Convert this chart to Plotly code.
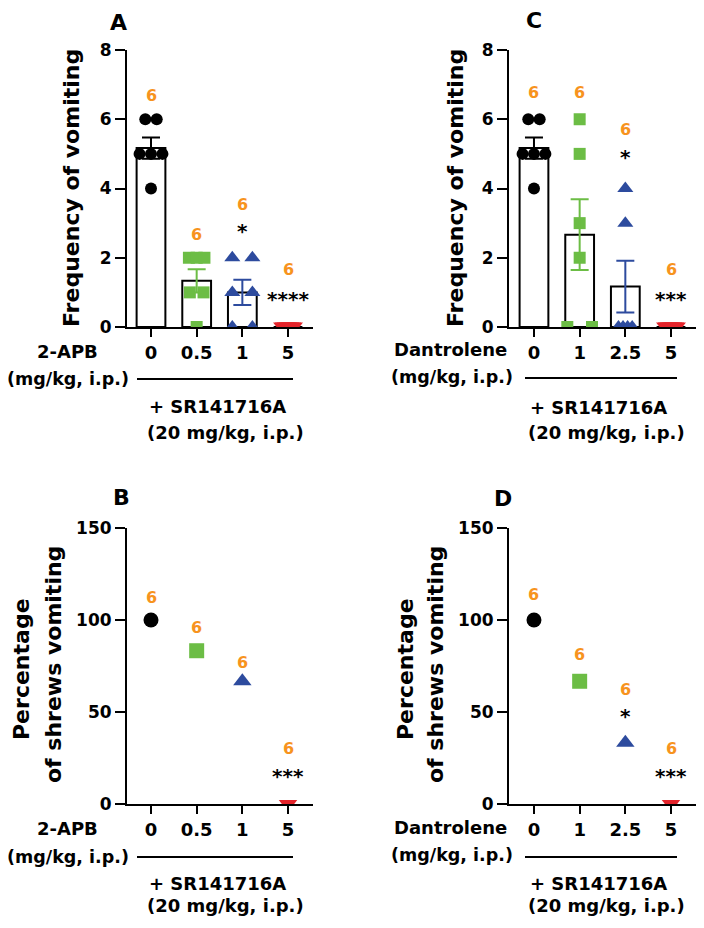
import numpy as np
import plotly.graph_objects as go

# dose labels
doses_apb = ["0", "0.5", "1", "5"]
doses_dan = ["0", "1", "2.5", "5"]

# individual shrews: frequency of vomiting
freq_apb = [[6, 6, 5, 5, 5, 4], [2, 2, 2, 1, 1, 0], [2, 2, 1, 1, 0, 0], [0, 0, 0, 0, 0, 0]]
freq_dan = [[6, 6, 5, 5, 5, 4], [6, 5, 3, 2, 0, 0], [4, 3, 0, 0, 0, 0], [0, 0, 0, 0, 0, 0]]

# percentage of shrews vomiting
pct_apb = [100, 83.3, 66.7, 0]
pct_dan = [100, 66.7, 33.3, 0]

n_apb = [6, 6, 6, 6]
n_dan = [6, 6, 6, 6]
sig_freq_apb = ["", "", "*", "****"]
sig_freq_dan = ["", "", "*", "***"]
sig_pct_apb = ["", "", "", "***"]
sig_pct_dan = ["", "", "*", "***"]

COLORS = ["#000000", "#6CBD45", "#2D4B9E", "#E4242B"]
SYMBOLS = ["circle", "square", "triangle-up", "triangle-down"]
DOT_SIZES = [12, 12, 14, 18]
ORANGE = "#F7931E"
FONT = "DejaVu Sans"
# the page body has an 8px margin, so the figure starts 8px into the window
PAD = 8
W, H = 704 - PAD, 928 - PAD


def px(x):
    return (x - PAD) / W


def py(y):
    return 1 - (y - PAD) / H


def bold(size, color="black"):
    return dict(family=FONT, size=size, color=color, weight="bold")


def label(text, x, y, size=18, xanchor="center", **kw):
    return dict(text=text, x=px(x), y=py(y), xref="paper", yref="paper", xanchor=xanchor,
                yanchor="middle", showarrow=False, font=bold(size), **kw)


def spread(vals, step, cap):
    # horizontal offsets for tied values, like a scatter dot plot
    vals = np.asarray(vals)
    offs = np.zeros(len(vals))
    for v in np.unique(vals):
        idx = np.where(vals == v)[0]
        n = len(idx)
        if n > 1:
            s = min(step, cap / ((n - 1) / 2))
            offs[idx] = (np.arange(n) - (n - 1) / 2) * s
    return offs


fig = go.Figure()

# panel geometry (window pixels)
left = dict(x0=127, x1=313, r=[-0.5255, 3.547])
right = dict(x0=509, x1=699, r=[-0.547, 3.613])
top = dict(y0=50, y1=327)
bot = dict(y0=528, y1=804)

panels = [
    ("A", "x", "y", left, top),
    ("C", "x2", "y2", right, top),
    ("B", "x3", "y3", left, bot),
    ("D", "x4", "y4", right, bot),
]

# dot spacing (step, max half-width) per group, in category units
dot_spread = {"x": [(0.25, 0.25), (0.3, 0.17), (0.44, 0.22), (0.1, 0.1)],
              "x2": [(0.25, 0.25), (0.55, 0.27), (0.44, 0.15), (0.1, 0.1)]}

# bar panels
for xa, ya, data in [("x", "y", freq_apb), ("x2", "y2", freq_dan)]:
    means = [float(np.mean(g)) for g in data]
    sems = [float(np.std(g, ddof=1) / np.sqrt(len(g))) for g in data]
    fig.add_trace(go.Bar(x=[0, 1, 2, 3], y=means, width=0.63, xaxis=xa, yaxis=ya,
                         marker=dict(color="white", line=dict(color="black", width=2))))
    for i, g in enumerate(data):
        step, cap = dot_spread[xa][i]
        fig.add_trace(go.Scatter(x=i + spread(g, step, cap), y=g, mode="markers",
                                 xaxis=xa, yaxis=ya,
                                 marker=dict(symbol=SYMBOLS[i], color=COLORS[i],
                                             size=DOT_SIZES[i], line=dict(width=0))))
        if sems[i] > 0:
            fig.add_trace(go.Scatter(x=[i], y=[means[i]], mode="markers", xaxis=xa, yaxis=ya,
                                     marker=dict(size=1, color="rgba(0,0,0,0)"),
                                     error_y=dict(type="data", array=[sems[i]], color=COLORS[i],
                                                  thickness=2, width=9)))

# percentage panels
for xa, ya, data in [("x3", "y3", pct_apb), ("x4", "y4", pct_dan)]:
    for i, v in enumerate(data):
        fig.add_trace(go.Scatter(x=[i], y=[v], mode="markers", xaxis=xa, yaxis=ya,
                                 marker=dict(symbol=SYMBOLS[i], color=COLORS[i],
                                             size=16 if i >= 2 else 15, line=dict(width=0))))

ann = []
shapes = []
layout_axes = {}
for k, (letter, xa, ya, gx, gy) in enumerate(panels):
    xname = "xaxis" if xa == "x" else "xaxis" + xa[1:]
    yname = "yaxis" if ya == "y" else "yaxis" + ya[1:]
    is_bar = k < 2
    doses = doses_apb if letter in "AB" else doses_dan
    layout_axes[xname] = dict(
        domain=[px(gx["x0"]), px(gx["x1"])], range=gx["r"], anchor=ya,
        tickvals=[0, 1, 2, 3], ticktext=doses, showline=True, linewidth=2,
        linecolor="black", ticks="outside", ticklen=8, tickwidth=2, tickcolor="black",
        tickfont=bold(18), showgrid=False, zeroline=False, fixedrange=True, automargin=False)
    layout_axes[yname] = dict(
        domain=[py(gy["y1"]), py(gy["y0"])], range=[0, 8] if is_bar else [0, 150],
        anchor=xa, tickvals=[0, 2, 4, 6, 8] if is_bar else [0, 50, 100, 150],
        showline=True, linewidth=2, linecolor="black", ticks="outside", ticklen=10,
        tickwidth=2, tickcolor="black", tickfont=bold(17), showgrid=False,
        zeroline=False, fixedrange=True, automargin=False)

# panel letters
for letter, x, y in [("A", 118, 22), ("C", 534, 21), ("B", 121, 497), ("D", 503, 498)]:
    ann.append(label(letter, x, y, size=22))

# y-axis titles
ann.append(label("Frequency of vomiting", 72, 188, size=22, textangle=-90))
ann.append(label("Frequency of vomiting", 456, 188, size=22, textangle=-90))
for xa_, xb_ in [(21, 53), (405, 435)]:
    ann.append(label("Percentage", xa_, 669, size=22, textangle=-90))
    ann.append(label("of shrews vomiting", xb_, 665, size=22, textangle=-90))

# x-axis treatment labels
for name, xr, xu, yd, yu, yl, ysr, y20, xl0, xl1, xc in [
        ("2-APB", 100, 131, 351, 379, 379, 406, 433, 137, 293, 217),
        ("2-APB", 100, 131, 828, 857, 857, 883, 905, 137, 293, 217),
        ("Dantrolene", 509, 515, 349, 377, 378, 407, 433, 525, 677, 598),
        ("Dantrolene", 509, 515, 827, 855, 857, 883, 905, 525, 677, 598)]:
    ann.append(label(name, xr, yd, xanchor="right"))
    ann.append(label("(mg/kg, i.p.)", xu, yu, size=17.5, xanchor="right"))
    ann.append(label("+ SR141716A", xc, ysr))
    ann.append(label("(20 mg/kg, i.p.)", xc + 8, y20))
    shapes.append(dict(type="line", xref="paper", yref="paper", x0=px(xl0), x1=px(xl1),
                       y0=py(yl), y1=py(yl), line=dict(color="black", width=2)))

# n labels and significance marks
n_y = {"A": [6.7, 2.66, 3.53, 1.65], "C": [6.76, 6.76, 5.69, 1.65],
       "B": [112.5, 96, 77, 30], "D": [114, 81, 62, 30]}
sig_y = {"A": [0, 0, 2.78, 0.8], "C": [0, 0, 4.9, 0.8],
         "B": [0, 0, 0, 15], "D": [0, 0, 48, 15]}
for letter, xa, ya, gx, gy in panels:
    ns = n_apb if letter in "AB" else n_dan
    sigs = {"A": sig_freq_apb, "C": sig_freq_dan, "B": sig_pct_apb, "D": sig_pct_dan}[letter]
    for i in range(4):
        ann.append(dict(text=str(ns[i]), x=i, y=n_y[letter][i], xref=xa, yref=ya,
                        xanchor="center", yanchor="middle", showarrow=False,
                        font=bold(16, ORANGE)))
        if sigs[i]:
            ann.append(dict(text=sigs[i], x=i, y=sig_y[letter][i], xref=xa, yref=ya,
                            xanchor="center", yanchor="middle", showarrow=False,
                            font=bold(20)))

fig.update_layout(
    width=W, height=H, margin=dict(l=0, r=0, t=0, b=0),
    paper_bgcolor="white", plot_bgcolor="white", showlegend=False,
    font=dict(family=FONT, color="black"),
    annotations=ann, shapes=shapes, **layout_axes)

fig.write_html("out.html")
